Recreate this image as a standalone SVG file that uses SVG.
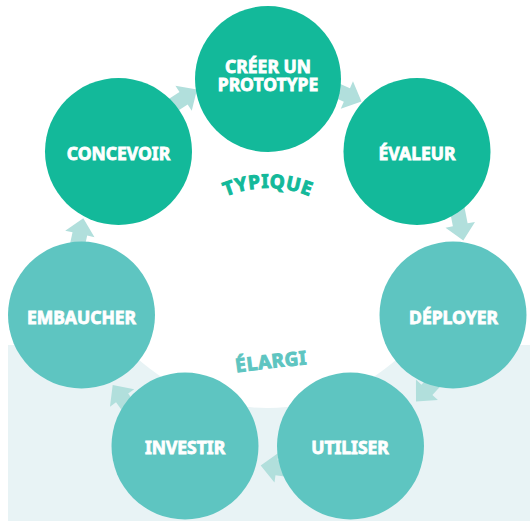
<svg xmlns="http://www.w3.org/2000/svg" width="530" height="521" viewBox="0 0 530 521">
  <defs>
    <style>
      .dark { fill: #13b99a; }
      .light { fill: #5ec5c1; }
      .arrow { fill: #b1dfdc; }
      .lbl { font-family: "Noto Sans", "Open Sans", "Liberation Sans", sans-serif; font-weight: 700; font-style: normal; font-size: 17.5px; fill: #ffffff; stroke: #ffffff; stroke-width: 0.8px; text-anchor: middle; }
      .zone { font-family: "Noto Sans", "Open Sans", "Liberation Sans", sans-serif; font-weight: 700; font-style: normal; font-size: 19px; stroke-width: 1px; letter-spacing: 0.6px; text-anchor: middle; }
    </style>
    <polygon id="arr" points="0,0 -16,-15 -16,-7.5 -40,-7.5 -40,7.5 -16,7.5 -16,15"/>
    <path id="arcTyp" d="M 157,299 A 111 111 0 0 1 379,299"/>
    <path id="arcEl" d="M 222,374.5 Q 272,367 322,363"/>
  </defs>

  <rect x="8" y="345" width="522" height="176" fill="#e8f3f5"/>
  <circle cx="267.5" cy="212" r="196" fill="#ffffff"/>

  <g id="connectors">
    <use href="#arr" class="arrow" transform="translate(197,89.5) rotate(-33)"/>
    <use href="#arr" class="arrow" transform="translate(361.5,101.5) rotate(24)"/>
    <use href="#arr" class="arrow" transform="translate(463.3,240.5) rotate(79)"/>
    <use href="#arr" class="arrow" transform="translate(416,401.5) rotate(133)"/>
    <use href="#arr" class="arrow" transform="translate(260.7,465.5) rotate(188)"/>
    <use href="#arr" class="arrow" transform="translate(112.7,385) rotate(234)"/>
    <use href="#arr" class="arrow" transform="translate(83.3,218.3) rotate(-77.6)"/>
  </g>

  <g id="creer">
    <circle cx="268" cy="79" r="73" class="dark"/>
    <text class="lbl"><tspan x="268" y="72.5">CRÉER UN</tspan><tspan x="268" y="91.2">PROTOTYPE</tspan></text>
  </g>
  <g id="concevoir">
    <circle cx="118.5" cy="151.5" r="73.5" class="dark"/>
    <text class="lbl" x="118.5" y="160">CONCEVOIR</text>
  </g>
  <g id="evaluer">
    <circle cx="417" cy="151.5" r="73.5" class="dark"/>
    <text class="lbl" x="417" y="160">ÉVALEUR</text>
  </g>
  <g id="embaucher">
    <circle cx="81.5" cy="315" r="73.5" class="light"/>
    <text class="lbl" x="81.5" y="323.5">EMBAUCHER</text>
  </g>
  <g id="deployer">
    <circle cx="453" cy="315" r="73.5" class="light"/>
    <text class="lbl" x="453.5" y="323.5">DÉPLOYER</text>
  </g>
  <g id="investir">
    <circle cx="185" cy="446" r="73.5" class="light"/>
    <text class="lbl" x="185" y="454">INVESTIR</text>
  </g>
  <g id="utiliser">
    <circle cx="350.5" cy="446" r="73.5" class="light"/>
    <text class="lbl" x="350" y="454">UTILISER</text>
  </g>

  <g id="labels">
    <text class="zone" fill="#13b99a" stroke="#13b99a"><textPath href="#arcTyp" startOffset="50%">TYPIQUE</textPath></text>
    <text class="zone" fill="#5ec5c1" stroke="#5ec5c1"><textPath href="#arcEl" startOffset="50%">ÉLARGI</textPath></text>
  </g>
</svg>
